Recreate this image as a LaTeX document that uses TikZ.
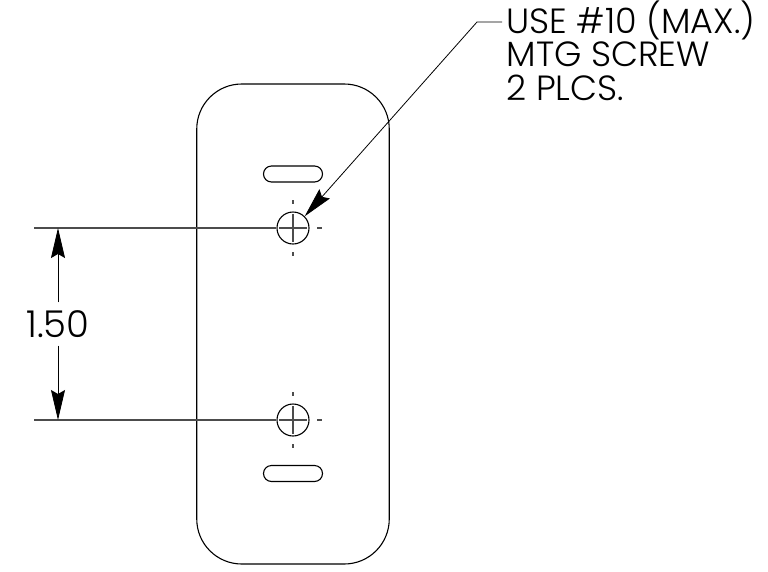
\documentclass[tikz,border=0pt]{standalone}
\usepackage{fontspec}
\usetikzlibrary{arrows.meta}
\newfontfamily\notefont{Poppins Light}

\begin{document}
\begin{tikzpicture}[x=1pt, y=-1pt, line width=1.1pt,
    plate/.style={draw, rectangle, rounded corners=45pt, minimum width=192.5pt, minimum height=480pt},
    slot/.style={draw, rectangle, rounded corners=8pt, minimum width=59pt, minimum height=16pt},
    hole/.style={draw, circle, minimum size=32pt, inner sep=0pt},
    note/.style={font=\notefont\fontsize{35}{33.5}\selectfont, align=left, inner sep=0pt},
    dim/.style={-{Stealth[length=30pt, width=14pt, inset=4pt]}, line width=0.8pt},
    cmark/.style={line width=1.2pt, gray!60!black}]
        \useasboundingbox (0,0) rectangle (768,571);
        % nodes
        \node[plate] (plate) at (293,324) {};
        \node[slot] (slotA) at (293,174) {};
        \node[slot] (slotB) at (293,473.5) {};
        \node[hole] (holeA) at (293,228) {};
        \node[hole] (holeB) at (293,420) {};
        \node[note, anchor=north west] (note) at (506,0) {USE \#10 (MAX.)\\MTG SCREW\\2 PLCS.};
        \node[font=\notefont\fontsize{37}{37}\selectfont, inner xsep=0pt, inner ysep=0pt, minimum height=42pt] (dimtext) at (58,324) {1.50};
        \coordinate (extA) at (34,228);
        \coordinate (extB) at (34,420);
        \coordinate (tipA) at (58,228);
        \coordinate (tipB) at (58,420);
        \coordinate (elbow) at (477,22);
        \coordinate (notestart) at (502,22);
        % centre marks
        \draw[cmark] (holeA.center) +(0,-28) -- +(0,-24) +(0,-14) -- +(0,14) +(0,24) -- +(0,28);
        \draw[cmark] (holeA.center) +(-14,0) -- +(14,0) +(24,0) -- +(29,0);
        \draw[cmark] (holeB.center) +(0,-28) -- +(0,-24) +(0,-14) -- +(0,14) +(0,24) -- +(0,28);
        \draw[cmark] (holeB.center) +(-14,0) -- +(14,0) +(24,0) -- +(29,0);
        % edges
        \draw[cmark] (extA) -- (holeA.west);
        \draw[cmark] (extB) -- (holeB.west);
        \draw[dim] (dimtext.north -| tipA) -- (tipA);
        \draw[dim] (dimtext.south -| tipB) -- (tipB);
        \draw[dim] (notestart) -- (elbow) -- (holeA.north east);
    \end{tikzpicture}
\end{document}
